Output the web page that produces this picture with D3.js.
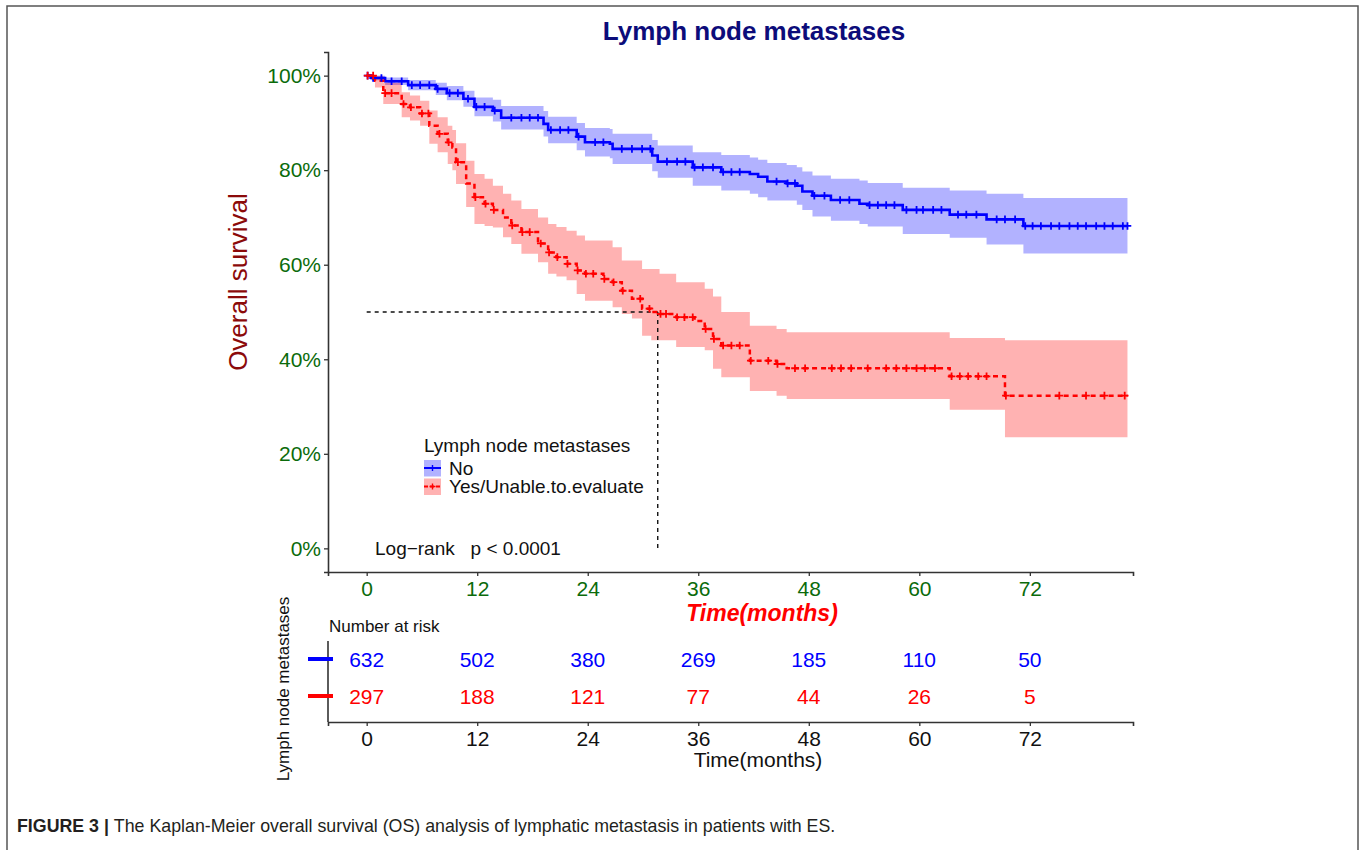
<!DOCTYPE html>
<html>
<head>
<meta charset="utf-8">
<script src="https://cdn.jsdelivr.net/npm/d3@7"></script>
<style>
  body { margin: 0; background: #fff; }
  svg text { font-family: "Liberation Sans", Arial, sans-serif; }
</style>
</head>
<body>
<svg id="chart" width="1360" height="850"></svg>
<script>
// ---- data ----
var blueT  = [0, 0.5, 2, 4.5, 7.5, 8.7, 10.5, 11.7, 13.7, 14.6, 19.2, 19.7, 22.8, 23.7, 26.4, 26.7, 31.0, 31.6, 35.4, 38.5, 41.6, 42.5, 43.5, 45.6, 46.7, 47.3, 48.4, 50.4, 53.5, 54.4, 58.2, 63.3, 67.3, 71.3];
var blueS  = [1, .995, .988, .980, .972, .963, .951, .934, .926, .911, .898, .885, .871, .859, .856, .845, .831, .818, .806, .796, .792, .786, .776, .772, .767, .755, .746, .737, .729, .726, .716, .706, .696, .682];
var blueLo = [1, .990, .980, .969, .959, .948, .934, .914, .903, .886, .871, .857, .842, .829, .825, .813, .798, .784, .767, .757, .750, .743, .736, .736, .727, .716, .702, .693, .686, .681, .665, .657, .643, .624];
var blueHi = [1, 1.0, .996, .991, .985, .978, .968, .954, .949, .936, .925, .913, .900, .889, .887, .877, .864, .852, .838, .832, .827, .822, .815, .811, .806, .797, .789, .782, .778, .773, .763, .757, .750, .741];
var blueCens = [0.1, 0.7, 1.6, 2.7, 3.8, 4.9, 5.8, 6.8, 7.7, 9.0, 9.9, 11.0, 11.9, 12.8, 13.9, 15.7, 16.8, 17.7, 18.6, 20.0, 21.0, 21.9, 23.0, 24.8, 25.7, 27.7, 28.8, 29.9, 30.8, 32.6, 33.7, 34.6, 35.6, 36.5, 37.6, 38.7, 39.6, 40.5, 44.5, 45.7, 46.5, 48.6, 49.7, 51.4, 52.4, 54.6, 55.5, 56.4, 57.3, 58.6, 59.7, 60.4, 61.5, 62.4, 64.2, 65.1, 66.2, 68.4, 69.3, 70.4, 71.5, 72.3, 73.2, 74.3, 75.2, 76.3, 77.2, 78.1, 79.2, 80.1, 81.0, 82.1, 82.6];

var redT  = [0, 0.9, 1.8, 3.8, 4.7, 5.8, 6.8, 7.7, 8.8, 9.3, 9.7, 10.8, 11.7, 12.8, 13.7, 14.8, 15.7, 16.8, 18.6, 19.7, 20.6, 21.7, 22.8, 23.7, 25.7, 26.7, 27.7, 28.8, 29.9, 30.9, 31.8, 33.6, 35.6, 36.7, 37.6, 38.5, 41.6, 44.5, 45.6, 63.3, 69.3];
var redS  = [1, .989, .963, .940, .933, .920, .894, .877, .859, .848, .817, .772, .743, .729, .716, .700, .683, .669, .645, .626, .616, .602, .588, .581, .570, .563, .545, .528, .507, .500, .496, .489, .481, .464, .443, .429, .397, .390, .381, .364, .323];
var redLo = [1, .975, .940, .912, .905, .894, .856, .838, .813, .800, .771, .722, .686, .682, .679, .658, .644, .623, .605, .581, .575, .567, .538, .524, .524, .510, .496, .486, .450, .440, .440, .426, .426, .419, .380, .362, .333, .323, .316, .293, .235];
var redHi = [1, 1.0, .985, .965, .958, .947, .926, .912, .894, .885, .857, .820, .792, .782, .767, .750, .736, .718, .700, .686, .680, .672, .662, .651, .651, .637, .609, .609, .591, .591, .581, .563, .563, .549, .533, .500, .471, .464, .457, .445, .440];
var redCens = [0.1, 0.7, 2.0, 2.7, 4.0, 4.8, 6.0, 6.7, 7.9, 8.9, 9.9, 11.8, 12.9, 13.8, 15.8, 16.9, 17.7, 18.9, 19.8, 20.7, 21.8, 22.9, 23.8, 24.6, 25.8, 26.8, 27.8, 29.7, 30.7, 31.9, 32.5, 33.7, 34.5, 35.4, 36.8, 37.7, 38.7, 39.6, 40.5, 41.7, 43.6, 44.6, 46.5, 47.6, 50.5, 51.5, 52.6, 54.4, 56.4, 57.5, 58.6, 59.7, 60.6, 61.7, 63.5, 64.4, 65.3, 66.4, 67.3, 69.4, 75.2, 78.1, 80.1, 82.3];

var endTime = 82.6;
var medianTime = 31.6;

var groups = ["No", "Yes/Unable.to.evaluate"];
var timeTicks = [0, 12, 24, 36, 48, 60, 72];
var survTicks = [0, 0.2, 0.4, 0.6, 0.8, 1];
var riskNo  = [632, 502, 380, 269, 185, 110, 50];
var riskYes = [297, 188, 121, 77, 44, 26, 5];

var blueCol = "#0000ff", redCol = "#ff0000";
var tickGreen = "#0b6b0b";

var svg = d3.select("#chart");

// outer frame
svg.append("rect").attr("x", 7).attr("y", 6).attr("width", 1351).attr("height", 870)
  .attr("fill", "none").attr("stroke", "#555").attr("stroke-width", 1.5);

// scales
var x = d3.scaleLinear().domain([-4.2, 83.2]).range([328, 1133]);
var y = d3.scaleLinear().domain([-0.05, 1.05]).range([572, 52]);

function survAt(T, S, t) {
  var i = d3.bisectRight(T, t) - 1;
  return S[Math.max(i, 0)];
}

function steps(T, S) {
  var pts = T.map(function(t, i) { return [t, S[i]]; });
  pts.push([endTime, S[S.length - 1]]);
  return pts;
}
function bands(T, lo, hi) {
  var pts = T.map(function(t, i) { return [t, lo[i], hi[i]]; });
  pts.push([endTime, lo[lo.length - 1], hi[hi.length - 1]]);
  return pts;
}

var area = d3.area().curve(d3.curveStepAfter)
  .x(function(d) { return x(d[0]); })
  .y0(function(d) { return y(d[1]); })
  .y1(function(d) { return y(d[2]); });
var line = d3.line().curve(d3.curveStepAfter)
  .x(function(d) { return x(d[0]); })
  .y(function(d) { return y(d[1]); });

var plot = svg.append("g");

plot.append("path").attr("d", area(bands(blueT, blueLo, blueHi)))
  .attr("fill", blueCol).attr("fill-opacity", 0.3);
plot.append("path").attr("d", area(bands(redT, redLo, redHi)))
  .attr("fill", redCol).attr("fill-opacity", 0.3);

// median lines
plot.append("line").attr("x1", x(0)).attr("x2", x(medianTime)).attr("y1", y(0.5)).attr("y2", y(0.5))
  .attr("stroke", "#111").attr("stroke-width", 1.4).attr("stroke-dasharray", "4,4");
plot.append("line").attr("x1", x(medianTime)).attr("x2", x(medianTime)).attr("y1", y(0.5)).attr("y2", y(0))
  .attr("stroke", "#111").attr("stroke-width", 1.4).attr("stroke-dasharray", "4,4");

plot.append("path").attr("d", line(steps(blueT, blueS)))
  .attr("fill", "none").attr("stroke", blueCol).attr("stroke-width", 2.6);
plot.append("path").attr("d", line(steps(redT, redS)))
  .attr("fill", "none").attr("stroke", redCol).attr("stroke-width", 2.5).attr("stroke-dasharray", "5,4");

function plus(cx, cy, r) {
  return "M" + (cx - r) + "," + cy + "H" + (cx + r) + "M" + cx + "," + (cy - r) + "V" + (cy + r);
}
plot.selectAll(".cb").data(blueCens).enter().append("path")
  .attr("d", function(t) { return plus(x(t), y(survAt(blueT, blueS, t)), 3.8); })
  .attr("stroke", blueCol).attr("stroke-width", 1.8);
plot.selectAll(".cr").data(redCens).enter().append("path")
  .attr("d", function(t) { return plus(x(t), y(survAt(redT, redS, t)), 3.8); })
  .attr("stroke", redCol).attr("stroke-width", 1.8);

// axes
var yAxis = svg.append("g").attr("transform", "translate(328,0)")
  .call(d3.axisLeft(y).tickValues(survTicks).tickSizeOuter(0).tickSize(4).tickPadding(3)
    .tickFormat(function(d) { return Math.round(d * 100) + "%"; }));
var xAxis = svg.append("g").attr("transform", "translate(0,572)")
  .call(d3.axisBottom(x).tickValues(timeTicks).tickSizeOuter(0).tickSize(4).tickPadding(5));
[yAxis, xAxis].forEach(function(a) {
  a.select(".domain").attr("stroke", "#333").attr("stroke-width", 1.6);
  a.selectAll(".tick line").attr("stroke", "#333").attr("stroke-width", 1.3);
  a.selectAll(".tick text").attr("fill", tickGreen).style("font-size", "21px");
});

// titles
svg.append("text").attr("x", 754).attr("y", 40).attr("text-anchor", "middle")
  .style("font-size", "26px").style("font-weight", "bold").attr("fill", "#0c0c7a")
  .text("Lymph node metastases");
svg.append("text").attr("transform", "translate(247,282) rotate(-90)").attr("text-anchor", "middle")
  .style("font-size", "26px").attr("fill", "#8b0a0a").text("Overall survival");
svg.append("text").attr("x", 762).attr("y", 621).attr("text-anchor", "middle")
  .style("font-size", "23px").style("font-weight", "bold").style("font-style", "italic")
  .attr("fill", redCol).text("Time(months)");

// legend
var leg = svg.append("g");
leg.append("text").attr("x", 424).attr("y", 452).style("font-size", "19px").attr("fill", "#111")
  .text("Lymph node metastases");
var legCols = [blueCol, redCol];
groups.forEach(function(g, i) {
  var ky = 460 + i * 18.5;
  leg.append("rect").attr("x", 424).attr("y", ky).attr("width", 17).attr("height", 16.5)
    .attr("fill", legCols[i]).attr("fill-opacity", 0.3);
  leg.append("line").attr("x1", 424).attr("x2", 441).attr("y1", ky + 8).attr("y2", ky + 8)
    .attr("stroke", legCols[i]).attr("stroke-width", 2)
    .attr("stroke-dasharray", i === 1 ? "4,2" : null);
  leg.append("path").attr("d", plus(432.5, ky + 8, 3)).attr("stroke", legCols[i]).attr("stroke-width", 1.4);
  leg.append("text").attr("x", 449).attr("y", ky + 14.5).style("font-size", "19px").attr("fill", "#111").text(g);
});

svg.append("text").attr("x", 375).attr("y", 555).style("font-size", "19px").attr("fill", "#111")
  .attr("xml:space", "preserve").text("Log\u2212rank   p < 0.0001");

// risk table
var rowY = d3.scalePoint().domain(groups).range([659, 696]);
var risk = svg.append("g");
risk.append("text").attr("x", 329).attr("y", 632).style("font-size", "17px").attr("fill", "#111")
  .text("Number at risk");
risk.append("line").attr("x1", 328).attr("x2", 328).attr("y1", 641).attr("y2", 722)
  .attr("stroke", "#333").attr("stroke-width", 1.6);
var rAxis = risk.append("g").attr("transform", "translate(0,722)")
  .call(d3.axisBottom(x).tickValues(timeTicks).tickSizeOuter(0).tickSize(4).tickPadding(5));
rAxis.select(".domain").attr("stroke", "#333").attr("stroke-width", 1.6);
rAxis.selectAll(".tick line").attr("stroke", "#333").attr("stroke-width", 1.3);
rAxis.selectAll(".tick text").attr("fill", "#111").style("font-size", "21px");

[riskNo, riskYes].forEach(function(vals, gi) {
  var gy = rowY(groups[gi]);
  risk.append("line").attr("x1", 308).attr("x2", 333).attr("y1", gy).attr("y2", gy)
    .attr("stroke", legCols[gi]).attr("stroke-width", 4);
  risk.selectAll(".r" + gi).data(vals).enter().append("text")
    .attr("x", function(d, i) { return x(timeTicks[i]); })
    .attr("y", gy).attr("dy", "0.36em").attr("text-anchor", "middle")
    .style("font-size", "21px").attr("fill", legCols[gi]).text(function(d) { return d; });
});
risk.append("text").attr("x", 758).attr("y", 767).attr("text-anchor", "middle")
  .style("font-size", "21px").attr("fill", "#111").text("Time(months)");
risk.append("text").attr("transform", "translate(289,689) rotate(-90)").attr("text-anchor", "middle")
  .style("font-size", "17px").attr("fill", "#111").text("Lymph node metastases");

// caption
var cap = svg.append("text").attr("x", 17).attr("y", 832).style("font-size", "17.8px").attr("fill", "#231f20");
cap.append("tspan").style("font-weight", "bold").text("FIGURE 3 | ");
cap.append("tspan").text("The Kaplan-Meier overall survival (OS) analysis of lymphatic metastasis in patients with ES.");
</script>
</body>
</html>
